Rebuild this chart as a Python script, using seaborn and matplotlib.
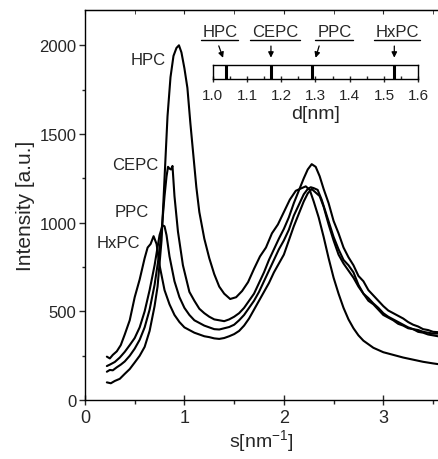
import matplotlib
matplotlib.use("Agg")
import matplotlib.pyplot as plt
import seaborn as sns
from matplotlib.ticker import MultipleLocator

# scattering curves
s_hpc = [0.22, 0.26, 0.30, 0.35, 0.40, 0.45, 0.50, 0.55, 0.60, 0.65,
         0.70, 0.73, 0.77, 0.80, 0.83, 0.86, 0.89, 0.92, 0.945, 0.97,
         1.00, 1.03, 1.06, 1.09, 1.12, 1.15, 1.20, 1.25, 1.30, 1.35,
         1.40, 1.46, 1.52, 1.58, 1.64, 1.70, 1.76, 1.82, 1.88, 1.94,
         2.00, 2.06, 2.12, 2.18, 2.22, 2.26, 2.30, 2.35, 2.40, 2.45,
         2.50, 2.55, 2.60, 2.65, 2.70, 2.75, 2.80, 2.90, 3.00, 3.10,
         3.20, 3.30, 3.40, 3.50, 3.55]
i_hpc = [100, 95, 108, 120, 148, 175, 212, 250, 300, 390,
         530, 640, 900, 1250, 1600, 1820, 1940, 1985, 2000, 1960,
         1870, 1760, 1560, 1380, 1200, 1060, 910, 800, 710, 640,
         600, 570, 580, 615, 665, 740, 810, 860, 940, 990,
         1060, 1130, 1180, 1195, 1205, 1185, 1120, 1030, 920, 800,
         690, 600, 520, 455, 405, 365, 335, 295, 270, 255,
         240, 228, 216, 207, 203]

s_cepc = [0.22, 0.25, 0.28, 0.32, 0.36, 0.40, 0.45, 0.50, 0.55, 0.60,
          0.65, 0.70, 0.74, 0.77, 0.80, 0.82, 0.835, 0.85, 0.865, 0.88,
          0.90, 0.935, 0.985, 1.05, 1.10, 1.15, 1.20, 1.25, 1.30, 1.35,
          1.40, 1.45, 1.50, 1.55, 1.60, 1.65, 1.70, 1.75, 1.80, 1.85,
          1.90, 1.95, 2.00, 2.05, 2.10, 2.15, 2.20, 2.24, 2.28, 2.32,
          2.36, 2.40, 2.45, 2.50, 2.55, 2.60, 2.65, 2.70, 2.75, 2.80,
          2.85, 2.90, 2.95, 3.00, 3.05, 3.10, 3.15, 3.20, 3.25, 3.30,
          3.35, 3.40, 3.45, 3.50, 3.55]
i_cepc = [160, 170, 168, 185, 200, 218, 250, 290, 340, 410,
          510, 650, 800, 950, 1150, 1260, 1315, 1305, 1300, 1320,
          1150, 950, 760, 610, 560, 515, 490, 470, 455, 450,
          445, 455, 470, 490, 520, 560, 600, 660, 720, 790,
          850, 910, 965, 1030, 1110, 1180, 1250, 1300, 1330, 1315,
          1262, 1190, 1110, 1010, 940, 860, 805, 760, 700, 670,
          620, 590, 560, 530, 505, 490, 475, 460, 440, 425,
          415, 400, 395, 385, 383]

s_ppc = [0.22, 0.25, 0.30, 0.35, 0.40, 0.45, 0.50, 0.55, 0.60, 0.65,
         0.70, 0.75, 0.78, 0.80, 0.82, 0.85, 0.90, 0.95, 1.00, 1.05,
         1.10, 1.15, 1.20, 1.25, 1.30, 1.35, 1.40, 1.45, 1.50, 1.55,
         1.60, 1.65, 1.70, 1.75, 1.80, 1.85, 1.90, 1.95, 2.00, 2.05,
         2.10, 2.15, 2.20, 2.24, 2.27, 2.30, 2.34, 2.38, 2.42, 2.46,
         2.50, 2.55, 2.60, 2.65, 2.70, 2.75, 2.80, 2.85, 2.90, 2.95,
         3.00, 3.05, 3.10, 3.15, 3.20, 3.25, 3.30, 3.35, 3.40, 3.45,
         3.50, 3.55]
i_ppc = [192, 200, 215, 240, 272, 310, 350, 410, 500, 620,
         760, 930, 985, 980, 930, 810, 670, 580, 520, 480,
         450, 435, 420, 410, 400, 398, 405, 412, 425, 450,
         480, 520, 560, 610, 670, 730, 790, 850, 900, 960,
         1040, 1100, 1160, 1190, 1200, 1195, 1185, 1130, 1060, 990,
         920, 850, 790, 760, 720, 650, 600, 575, 545, 520,
         490, 470, 455, 440, 425, 410, 400, 395, 385, 380,
         375, 375]

s_hxpc = [0.22, 0.25, 0.28, 0.32, 0.36, 0.40, 0.45, 0.50, 0.55, 0.60,
          0.63, 0.66, 0.69, 0.72, 0.75, 0.80, 0.85, 0.90, 0.95, 1.00,
          1.05, 1.10, 1.15, 1.20, 1.25, 1.30, 1.35, 1.40, 1.45, 1.50,
          1.55, 1.60, 1.65, 1.70, 1.75, 1.80, 1.85, 1.90, 1.95, 2.00,
          2.05, 2.10, 2.15, 2.20, 2.24, 2.28, 2.32, 2.36, 2.40, 2.45,
          2.50, 2.55, 2.60, 2.65, 2.70, 2.75, 2.80, 2.85, 2.90, 2.95,
          3.00, 3.05, 3.10, 3.15, 3.20, 3.25, 3.30, 3.35, 3.40, 3.45,
          3.50, 3.55]
i_hxpc = [245, 235, 255, 275, 310, 370, 450, 580, 680, 800,
          860, 880, 924, 880, 760, 620, 540, 480, 440, 410,
          395, 380, 370, 360, 355, 348, 345, 350, 360, 372,
          390, 420, 460, 510, 560, 610, 660, 720, 770, 820,
          900, 980, 1050, 1120, 1165, 1190, 1170, 1150, 1090, 990,
          900, 820, 770, 730, 690, 640, 600, 560, 540, 510,
          480, 465, 450, 430, 420, 405, 400, 385, 380, 370,
          365, 360]

# peak labels next to the first maxima
names = ["HPC", "CEPC", "PPC", "HxPC"]
label_s = [0.64, 0.51, 0.47, 0.34]
label_i = [1921, 1330, 1065, 890]

# inset: layer spacing d [nm]
d_values = [1.04, 1.17, 1.29, 1.53]
d_text = [1.021, 1.182, 1.357, 1.538]
d_line = [(0.965, 1.075), (1.11, 1.255), (1.30, 1.41), (1.47, 1.605)]
arrow_start = [1.015, 1.17, 1.313, 1.53]
arrow_end = [1.033, 1.17, 1.298, 1.53]

sns.set_style("ticks")
plt.rcParams['font.family'] = ['Liberation Sans', 'DejaVu Sans']
plt.rcParams['mathtext.fontset'] = 'custom'
plt.rcParams['mathtext.rm'] = 'Liberation Sans'

fig = plt.figure(figsize=(4.38, 4.60), dpi=100)
ax = fig.add_axes([0.194, 0.128, 0.806, 0.8485])

for s, i in [(s_hpc, i_hpc), (s_cepc, i_cepc), (s_ppc, i_ppc), (s_hxpc, i_hxpc)]:
    sns.lineplot(x=s, y=i, color='k', lw=1.5, ax=ax)

for n, x, y in zip(names, label_s, label_i):
    ax.text(x, y, n, ha='center', va='center', fontsize=12)

ax.set_xlim(0, 3.55)
ax.set_ylim(0, 2200)
ax.xaxis.set_major_locator(MultipleLocator(1))
ax.xaxis.set_minor_locator(MultipleLocator(0.5))
ax.yaxis.set_major_locator(MultipleLocator(500))
ax.yaxis.set_minor_locator(MultipleLocator(250))
ax.tick_params(axis='x', which='major', direction='inout', length=7, width=1, labelsize=13, pad=3)
ax.tick_params(axis='x', which='minor', direction='out', length=3, width=1)
ax.tick_params(axis='y', which='major', direction='out', length=4, width=1, labelsize=12, pad=2)
ax.tick_params(axis='y', which='minor', direction='out', length=2.5, width=1)
ax.spines['right'].set_visible(False)
for sp in ['left', 'bottom', 'top']:
    ax.spines[sp].set_linewidth(1)
    ax.spines[sp].set_color('k')

top = ax.secondary_xaxis('top')
top.xaxis.set_major_locator(MultipleLocator(1))
top.xaxis.set_minor_locator(MultipleLocator(0.5))
top.tick_params(which='both', direction='in', length=3, labeltop=False)

ax.set_xlabel(r's[nm$^{\mathregular{-1}}$]', fontsize=14, labelpad=1)
ax.set_ylabel("Intensity [a.u.]", fontsize=15, labelpad=3)

# inset scale of d
ins = fig.add_axes([0.4856, 0.826, 0.4694, 0.0311])
ins.set_xlim(1.0, 1.6)
ins.set_ylim(0, 1)
ins.set_yticks([])
ins.xaxis.set_major_locator(MultipleLocator(0.1))
ins.xaxis.set_minor_locator(MultipleLocator(0.05))
ins.tick_params(axis='x', which='major', direction='inout', length=5, width=1, labelsize=11, pad=4)
ins.tick_params(axis='x', which='minor', direction='in', length=2.5, width=1)
for sp in ins.spines.values():
    sp.set_linewidth(1)
    sp.set_color('k')
ins.set_xlabel("d[nm]", fontsize=14, labelpad=2)
ins.vlines(d_values, 0, 1, colors='k', lw=2.2)

for n, xt, (l0, l1), a0, a1 in zip(names, d_text, d_line, arrow_start, arrow_end):
    ins.text(xt, 3.3, n, ha='center', va='center', fontsize=12, clip_on=False)
    ins.plot([l0, l1], [2.7, 2.7], color='k', lw=1, clip_on=False)
    ins.annotate("", xy=(a1, 1.3), xytext=(a0, 2.5),
                 arrowprops=dict(arrowstyle='-|>', color='k', lw=0.9, mutation_scale=8),
                 annotation_clip=False)

fig.savefig("out.png", dpi=100)
